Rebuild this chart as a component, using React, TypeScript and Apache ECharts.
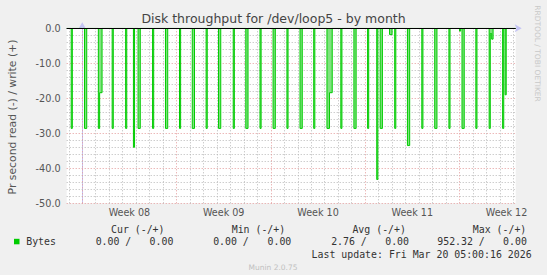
import React, { useEffect, useRef } from "react";
import * as echarts from "echarts";

// Time in hours from Monday 00:00 of Week 08
const X_MIN = -27.7;
const X_MAX = 772.3;
const dayTicks = [-24, 24, 48, 72, 96, 120, 144, 192, 216, 240, 264, 288, 312, 360, 384, 408, 432, 456, 480, 528, 552, 576, 600, 624, 648, 696, 720, 744, 768];
const weekStarts = [0, 168, 336, 504, 672];
const weekMids = [84, 252, 420, 588, 756];
const weekLabels = ["Week 08", "Week 09", "Week 10", "Week 11", "Week 12"];

// Read spikes (negative = read), start/end in hours, value in bytes/s
const spikeStart = [-19.7, 4, 28.7, 31, 53.3, 77.3, 91.2, 99.4, 125.3, 148.3, 173.3, 196, 220.7, 242.8, 269, 291.4, 316.7, 340, 364.7, 388, 412.4, 436, 440.5, 460.7, 484, 508.4, 524.7, 530.8, 547.5, 556.7, 579.4, 605, 628, 653.3, 672.2, 676.6, 701.3, 725, 727, 729.5, 749, 753.4];
const spikeEnd = [-17.7, 8, 31, 35.3, 55.3, 79.3, 93.2, 103.4, 127.3, 152.3, 175.3, 200, 222.7, 246.8, 271, 295.4, 318.7, 344, 366.7, 392, 414.4, 440.5, 445.4, 462.7, 488, 510.4, 526.7, 534.8, 552, 558.7, 583.4, 607, 632, 655.3, 674.2, 680.6, 703.3, 727, 729.5, 732, 751, 755.4];
const spikeValue = [-28.6, -28.6, -28.6, -18.4, -28.6, -28.6, -34.0, -28.6, -28.6, -28.6, -28.6, -28.6, -28.6, -28.6, -28.6, -28.6, -28.6, -28.6, -28.6, -28.6, -28.6, -28.6, -18.4, -28.6, -28.6, -28.6, -43.2, -28.6, -1.8, -28.6, -33.5, -28.6, -28.6, -28.6, -0.8, -28.6, -28.6, -28.6, -1.5, -3.1, -28.6, -19.0];

const yTicks = [0, -10, -20, -30, -40, -50];
const yMinorTicks = [-2, -4, -6, -8, -12, -14, -16, -18, -22, -24, -26, -28, -32, -34, -36, -38, -42, -44, -46, -48];

const legendHeaders = ["Cur (-/+)", "Min (-/+)", "Avg (-/+)", "Max (-/+)"];
const legendRead = ["0.00 /", "0.00 /", "2.76 /", "952.32 /"];
const legendWrite = ["0.00", "0.00", "0.00", "0.00"];
const seriesName = "Bytes";
const lastUpdate = "Last update: Fri Mar 20 05:00:16 2026";

function buildPoints(): number[][] {
  const pts: number[][] = [[X_MIN, 0]];
  const n = spikeStart.length;
  for (let i = 0; i < n; i++) {
    const s = spikeStart[i];
    const e = spikeEnd[i];
    const v = spikeValue[i];
    const contPrev = i > 0 && spikeEnd[i - 1] === s;
    const contNext = i < n - 1 && spikeStart[i + 1] === e;
    if (!contPrev) pts.push([s, 0]);
    pts.push([s, v], [e, v]);
    if (!contNext) pts.push([e, 0]);
  }
  pts.push([X_MAX, 0]);
  return pts;
}

export default function App() {
  const ref = useRef<HTMLDivElement>(null);
  useEffect(() => {
    if (!ref.current) return;
    const chart = echarts.init(ref.current, undefined, { renderer: "svg" });
    const gray = "#b8b8b8";
    const red = "#e49a9a";
    const axisBlue = "#c4c4f4";
    const mono = "DejaVu Sans Mono";
    const headerX = [111, 231.7, 352.4, 472.8];
    const readRight = [131.3, 248.8, 366.8, 484.8];
    const writeRight = [173.4, 291.3, 409, 526.9];
    const graphics: any[] = [
      {
        type: "text", x: 12, y: 117, rotation: Math.PI / 2,
        style: { text: "Pr second read (-) / write (+)", fontFamily: "DejaVu Sans", fontSize: 10.8, fill: "#555", align: "center", verticalAlign: "middle" },
      },
      {
        type: "text", x: 537.5, y: 53.5, rotation: -Math.PI / 2,
        style: { text: "RRDTOOL / TOBI OETIKER", fontFamily: "DejaVu Sans", fontSize: 7.5, fill: "#c8c8c8", align: "center", verticalAlign: "middle" },
      },
      { type: "rect", shape: { x: 14, y: 238.8, width: 5.5, height: 5.5 }, style: { fill: "#00cc00" } },
      { type: "text", x: 26.2, y: 241.4, style: { text: seriesName, fontFamily: mono, fontSize: 9.9, fill: "#333", align: "left", verticalAlign: "middle" } },
      { type: "text", x: 311.6, y: 254.3, style: { text: lastUpdate, fontFamily: mono, fontSize: 9.9, fill: "#333", align: "left", verticalAlign: "middle" } },
      { type: "text", x: 273, y: 267.6, style: { text: "Munin 2.0.75", fontFamily: "DejaVu Sans", fontSize: 7.5, fill: "#c0c0c0", align: "center", verticalAlign: "middle" } },
    ];
    legendHeaders.forEach((h, i) => {
      graphics.push({ type: "text", x: headerX[i], y: 229, style: { text: h, fontFamily: mono, fontSize: 9.9, fill: "#333", align: "left", verticalAlign: "middle" } });
      graphics.push({ type: "text", x: readRight[i], y: 241.4, style: { text: legendRead[i], fontFamily: mono, fontSize: 9.9, fill: "#333", align: "right", verticalAlign: "middle" } });
      graphics.push({ type: "text", x: writeRight[i], y: 241.4, style: { text: legendWrite[i], fontFamily: mono, fontSize: 9.9, fill: "#333", align: "right", verticalAlign: "middle" } });
    });

    const hiddenAxis = { axisLine: { show: false }, axisLabel: { show: false } };

    chart.setOption({
      animation: false,
      backgroundColor: "#f0f0f0",
      title: {
        text: "Disk throughput for /dev/loop5 - by month",
        left: "center",
        top: 7,
        textStyle: { fontFamily: "DejaVu Sans", fontSize: 12.5, fontWeight: "normal", color: "#444" },
      },
      grid: { left: 66.7, right: 31.3, top: 28.3, bottom: 71.7, show: true, backgroundColor: "#ffffff", borderWidth: 0 },
      xAxis: [
        {
          type: "value", min: X_MIN, max: X_MAX, position: "bottom",
          axisLine: { show: true, lineStyle: { color: axisBlue, width: 1 }, symbol: ["none", "arrow"], symbolSize: [6, 7], symbolOffset: [0, 6] },
          axisTick: { show: false, customValues: weekMids },
          axisLabel: {
            customValues: weekMids, margin: 4, color: "#555", fontFamily: "DejaVu Sans", fontSize: 9.6,
            formatter: (v: number) => weekLabels[weekMids.indexOf(Math.round(v))] || "",
          },
          splitLine: { show: false },
        },
        {
          type: "value", min: X_MIN, max: X_MAX, position: "bottom", z: 3, ...hiddenAxis,
          axisTick: { show: false, customValues: dayTicks },
          splitLine: { show: true, lineStyle: { color: gray, type: [1, 2], width: 1 } },
        },
        {
          type: "value", min: X_MIN, max: X_MAX, position: "bottom", z: 3, ...hiddenAxis,
          axisTick: { show: false, customValues: weekStarts },
          splitLine: { show: true, lineStyle: { color: red, type: [1, 2], width: 1 } },
        },
      ],
      yAxis: [
        {
          type: "value", min: -50, max: 0, interval: 10, position: "left",
          axisLine: { show: true, lineStyle: { color: axisBlue, width: 1 }, symbol: ["none", "arrow"], symbolSize: [6, 7], symbolOffset: [0, 6] },
          axisTick: { show: false },
          axisLabel: { show: true, margin: 6, color: "#555", fontFamily: "DejaVu Sans", fontSize: 9.7, formatter: (v: number) => v.toFixed(1), customValues: yTicks },
          splitLine: { show: false },
        },
        {
          type: "value", min: -50, max: 0, position: "left", z: 3, ...hiddenAxis,
          axisTick: { show: false, customValues: yMinorTicks },
          splitLine: { show: true, lineStyle: { color: gray, type: [1, 2], width: 1 } },
        },
        {
          type: "value", min: -50, max: 0, interval: 10, position: "left", z: 3, ...hiddenAxis,
          axisTick: { show: false, customValues: yTicks },
          splitLine: { show: true, lineStyle: { color: red, type: [1, 2], width: 1 } },
        },
      ],
      series: [
        {
          name: seriesName, type: "line", xAxisIndex: 0, yAxisIndex: 0, z: 4,
          data: buildPoints(), showSymbol: false, symbol: "none", clip: true,
          lineStyle: { color: "#00cc00", width: 1 },
          areaStyle: { origin: "auto", opacity: 1, color: "#80e280" },
          markLine: {
            silent: true, symbol: ["none", "none"], label: { show: false },
            lineStyle: { color: "#000", width: 1, type: "solid" },
            data: [{ yAxis: 0 }],
          },
        },
      ],
      graphic: graphics,
    });
    return () => chart.dispose();
  }, []);
  return <div ref={ref} style={{ position: "fixed", left: 0, top: 0, width: 547, height: 275 }} />;
}
